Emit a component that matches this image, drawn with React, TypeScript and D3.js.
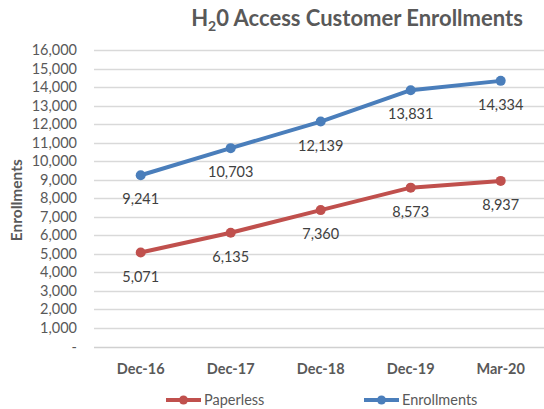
import * as d3 from "d3";

const categories = ["Dec-16", "Dec-17", "Dec-18", "Dec-19", "Mar-20"];
const paperless = [5071, 6135, 7360, 8573, 8937];
const enrollments = [9241, 10703, 12139, 13831, 14334];
const yTicks = d3.range(0, 16001, 1000);

const W = 544;
const H = 409;
const FONT = "Lato, 'Open Sans', sans-serif";

const series = [
  { name: "Paperless", values: paperless, color: "#c0504d" },
  { name: "Enrollments", values: enrollments, color: "#4a7ebb" },
];

export default function App() {
  // plot area
  const x = d3.scalePoint<string>().domain(categories).range([140.7, 500.7]);
  const y = d3.scaleLinear().domain([0, 16000]).range([346.5, 50]);
  const fmt = d3.format(",");
  const line = d3
    .line<number>()
    .x((_, i) => x(categories[i]) as number)
    .y((d) => y(d));

  return (
    <svg
      width={W}
      height={H}
      style={{ position: "absolute", left: 0, top: 0, background: "#fff", fontFamily: FONT }}
    >
      {/* title */}
      <text x={357} y={26} textAnchor="middle" fontSize={22} fontWeight="bold" fill="#595959">
        H<tspan fontSize={14} dy={5}>2</tspan>
        <tspan dy={-5}>0 Access Customer Enrollments</tspan>
      </text>

      {/* grid + y labels */}
      {yTicks.map((t) => (
        <g key={t}>
          <line
            x1={94}
            x2={W}
            y1={Math.round(y(t)) + 0.5}
            y2={Math.round(y(t)) + 0.5}
            stroke={t === 0 ? "#d0d0d0" : "#d9d9d9"}
            strokeWidth={1.3}
          />
          <text x={77} y={y(t) + 5} textAnchor="end" fontSize={14.5} fill="#595959">
            {t === 0 ? "-" : fmt(t)}
          </text>
        </g>
      ))}

      <text
        transform={`translate(22,${y(8000) + 2}) rotate(-90)`}
        textAnchor="middle"
        fontSize={15.5}
        fontWeight="bold"
        fill="#595959"
      >
        Enrollments
      </text>

      {/* x labels */}
      {categories.map((c) => (
        <text key={c} x={x(c)} y={374} textAnchor="middle" fontSize={14.5} fontWeight="bold" fill="#595959">
          {c}
        </text>
      ))}

      {/* series */}
      {series.map((s) => (
        <g key={s.name}>
          <path d={line(s.values) as string} fill="none" stroke={s.color} strokeWidth={4} strokeLinejoin="round" />
          {s.values.map((v, i) => (
            <circle key={i} cx={x(categories[i])} cy={y(v)} r={5} fill={s.color} />
          ))}
          {s.values.map((v, i) => (
            <text
              key={"l" + i}
              x={x(categories[i])}
              y={y(v) + 29}
              textAnchor="middle"
              fontSize={14.5}
              fill="#404040"
            >
              {fmt(v)}
            </text>
          ))}
        </g>
      ))}

      {/* legend */}
      {series.map((s, i) => {
        const lx = i === 0 ? 166 : 364;
        return (
          <g key={"lg" + s.name}>
            <line x1={lx} x2={lx + 35} y1={400} y2={400} stroke={s.color} strokeWidth={4} />
            <circle cx={lx + 17.5} cy={400} r={4.5} fill={s.color} />
            <text x={lx + 38} y={405} fontSize={14.5} fill="#595959">
              {s.name}
            </text>
          </g>
        );
      })}
    </svg>
  );
}
